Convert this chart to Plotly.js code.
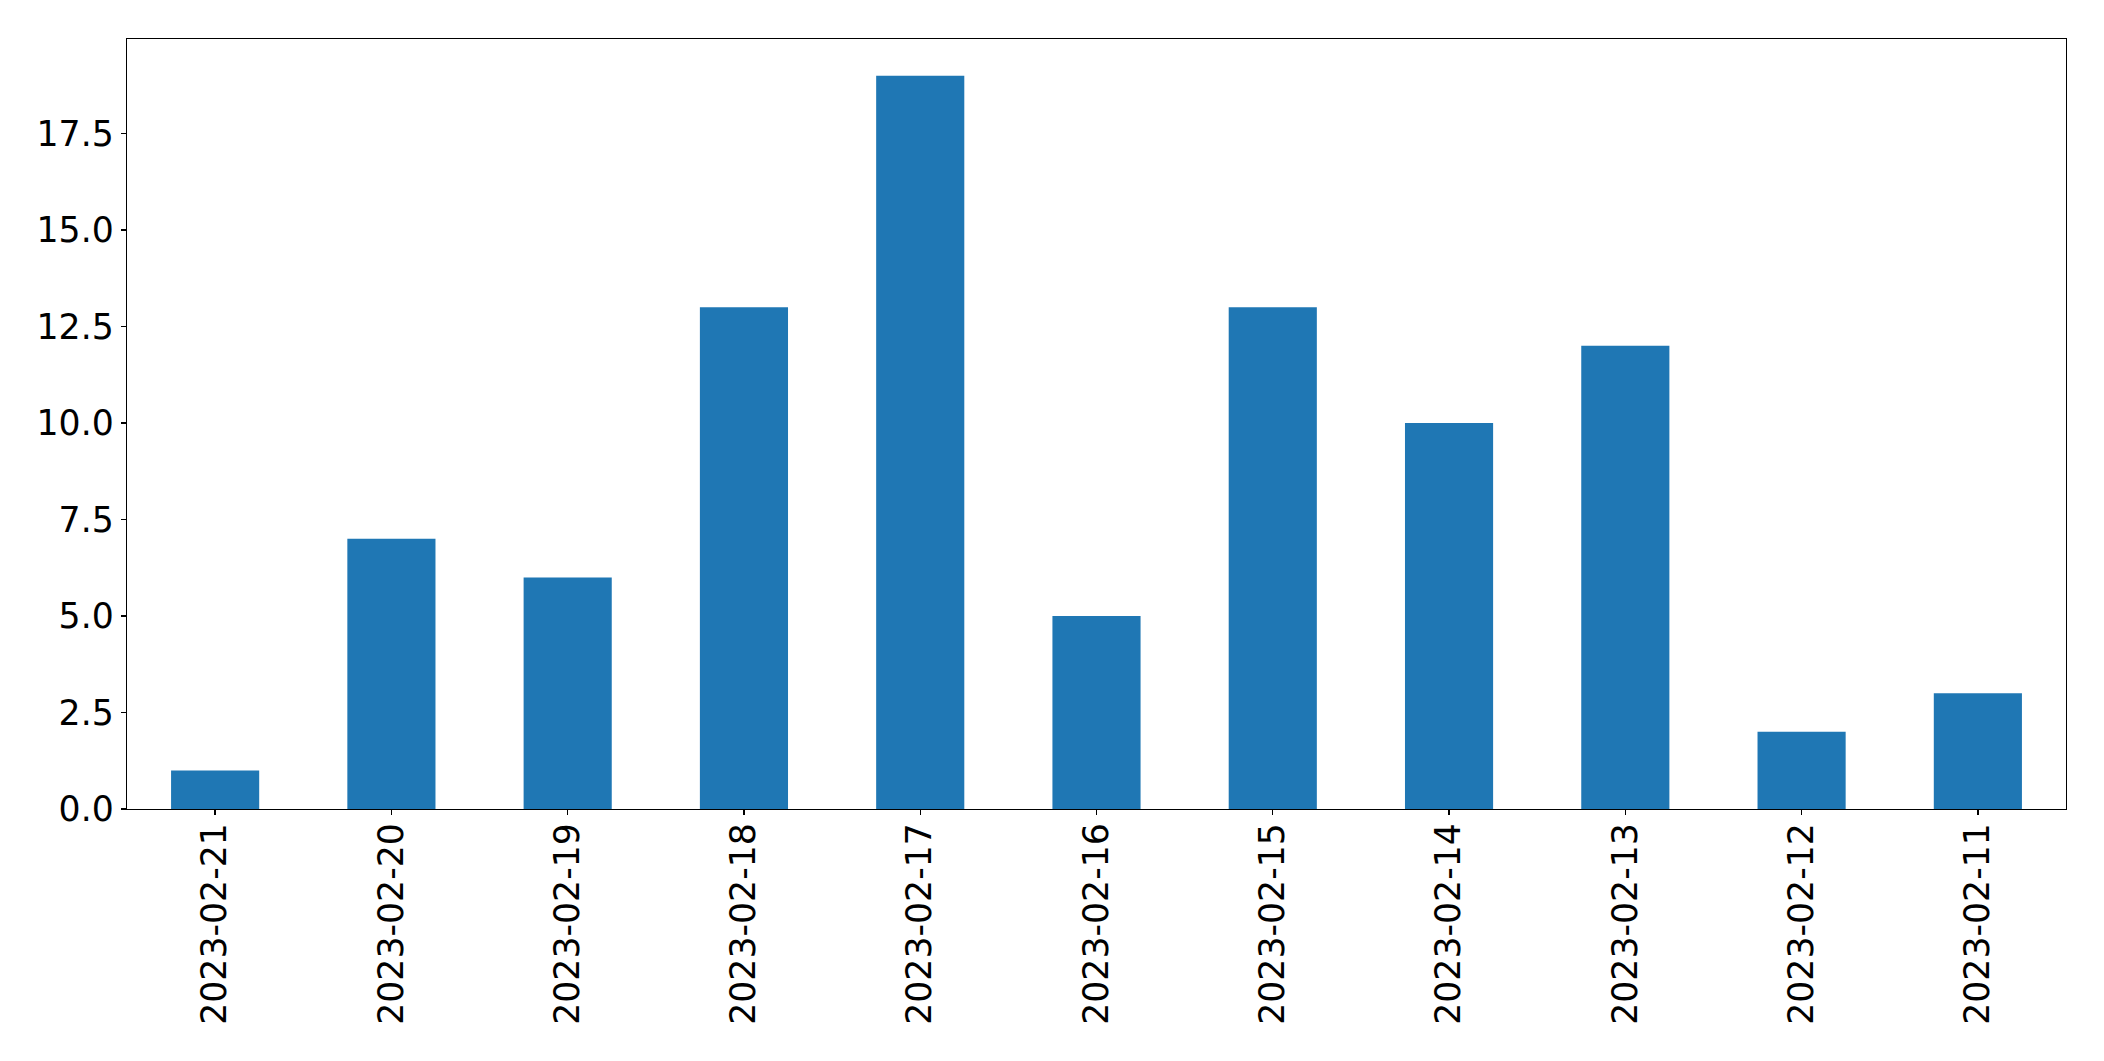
<!DOCTYPE html>
<html>
<head>
<meta charset="utf-8">
<script src="https://cdn.plot.ly/plotly-3.0.1.min.js"></script>
<style>html,body{margin:0;padding:0;background:#fff;}#chart{width:2104px;height:1061px;}</style>
</head>
<body>
<div id="chart"></div>
<script>
const dates = ["2023-02-21","2023-02-20","2023-02-19","2023-02-18","2023-02-17","2023-02-16","2023-02-15","2023-02-14","2023-02-13","2023-02-12","2023-02-11"];
const counts = [1, 7, 6, 13, 19, 5, 13, 10, 12, 2, 3];
const yTicks = [0, 2.5, 5, 7.5, 10, 12.5, 15, 17.5];

const font = {family: "DejaVu Sans", size: 34.7, color: "#000"};
Plotly.newPlot("chart", [{
  type: "bar",
  x: dates,
  y: counts,
  marker: {color: "#1f77b4", line: {width: 0}},
  width: 0.5,
  hoverinfo: "x+y"
}], {
  width: 2104, height: 1061,
  margin: {l: 127.3, r: 38.3, t: 39.3, b: 252, pad: 0},
  paper_bgcolor: "#fff", plot_bgcolor: "#fff",
  showlegend: false,
  font: font,
  xaxis: {
    type: "category", range: [-0.5, 10.5], tickangle: -90,
    showgrid: false, zeroline: false,
    showline: true, mirror: true, linecolor: "#000", linewidth: 1.3,
    ticks: "outside", ticklen: 5, tickwidth: 1.3, tickcolor: "#000",
    ticklabelstandoff: -6,
    tickfont: font, automargin: false
  },
  yaxis: {
    range: [0, 19.95], tickvals: yTicks, ticktext: yTicks.map(v => v.toFixed(1)),
    showgrid: false, zeroline: false,
    showline: true, mirror: true, linecolor: "#000", linewidth: 1.3,
    ticks: "outside", ticklen: 5, tickwidth: 1.3, tickcolor: "#000",
    tickfont: font, automargin: false
  }
}, {staticPlot: true});
</script>
</body>
</html>
